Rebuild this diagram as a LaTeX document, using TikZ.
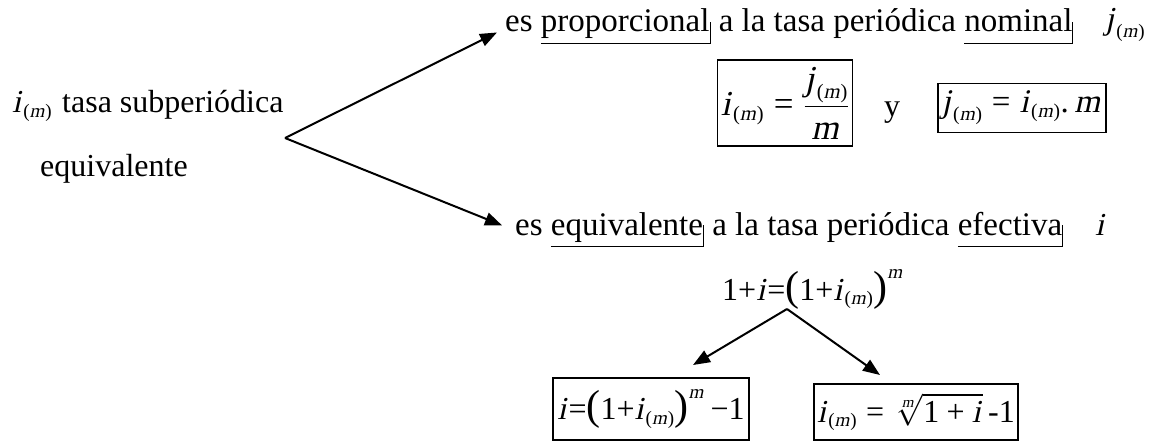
\RequirePackage{fix-cm}
\documentclass[tikz,border=0pt]{standalone}
\usepackage{amsmath}
\usepackage{fontspec}
\setmainfont{Liberation Serif}[ItalicFont={Liberation Serif},ItalicFeatures={FakeSlant=0.22}]
\usetikzlibrary{arrows.meta}
\DeclareMathSizes{32}{32}{19}{15}
\DeclareMathSizes{33}{33}{19.5}{15}
\DeclareMathSizes{34}{34}{20}{16}
\DeclareMathSizes{35}{35}{20.5}{16}
\newcommand\vv[1]{\text{\itshape #1\kern0.07em}}
\newcommand\sm{\text{(\textit{m}\kern0.05em)}}
\newcommand\im{\vv{i}_{\sm}}
\newcommand\jm{\vv{j}_{\sm}}
\newcommand\one{\text{1}}
\newcommand\pl{\text{+}}
\newcommand\eq{\text{=}}
\newcommand\mn{\text{−}}
\newcommand\bp[1]{\text{\fontsize{42}{42}\selectfont #1}}
\newcommand\lp{\mathopen{\bp(}}
\newcommand\rp{\mathclose{\bp)}}
\newcommand\ub[1]{\setbox0\hbox{#1}\rlap{\rule[-0.36em]{\wd0}{1pt}}\box0\rule[-0.36em]{1pt}{0.67em}}
\tikzset{
  txt/.style={inner sep=0pt},
  rt/.style={inner sep=0pt,font=\fontsize{33}{40}\selectfont},
  box/.style={draw, line width=1.5pt, inner sep=3pt},
  bigbox/.style={box, font=\fontsize{35}{42}\selectfont},
  midbox/.style={box, font=\fontsize{33}{40}\selectfont},
  arr/.style={line width=2pt, -{Triangle[length=17pt,width=13pt]}},
}
\begin{document}
\begin{tikzpicture}[x=1pt,y=-1pt,font=\fontsize{32}{38}\selectfont]
\useasboundingbox (0,0) rectangle (1157,441);
% left
\node[txt,anchor=base west] (im) at (12,113) {$\im$};
\node[txt,anchor=base west] (t1) at (62,113) {tasa subperiódica};
\node[txt,anchor=base west] (t2) at (40,176) {equivalente};
\coordinate (V) at (285,138);
% top branch
\node[rt,anchor=base west] (top) at (505,32) {es \ub{proporcional} a la tasa periódica \ub{nominal}};
\node[txt,anchor=base west] (jm) at (1105,30) {$\jm$};
\node[bigbox,minimum width=135pt,minimum height=86pt] (b1) at (785,103) {$\im \mathrel{\eq} \dfrac{\jm}{\vv{m}}$};
\node[txt,anchor=base] (y) at (892,117) {y};
\node[midbox,minimum width=168pt,minimum height=49pt] (b2) at (1022,108) {$\jm \mathrel{\eq} \im\text{.}\,\vv{m}$};
% bottom branch
\node[rt,anchor=base west] (bot) at (515,235) {es \ub{equivalente} a la tasa periódica \ub{efectiva}};
\node[txt,anchor=base west] (ii) at (1095,235) {$\vv{i}$};
\node[txt,anchor=base west] (F) at (722,300) {$\one\pl\vv{i}\eq\lp\one\pl\im\rp^{\vv{m}}$};
\coordinate (W) at (787,309);
\coordinate (L) at (693,365);
\coordinate (R) at (880,375);
\node[box,minimum width=196pt,minimum height=62pt] (b3) at (651,409) {$\vv{i}\eq\lp\one\pl\im\rp^{\vv{m}}\,\mn\one$};
\node[box,minimum width=178pt,minimum height=56pt] (b4) at (916,412) {$\im \mathrel{\eq} \sqrt[\vv{m}]{\one\mathbin{\pl}\vv{i}}\,\text{-1}$};
% connectors
\draw[arr] (V) -- ([xshift=-8pt,yshift=-6pt]top.west);
\draw[arr] (V) -- ([xshift=-13pt,yshift=4pt]bot.west);
\draw[arr] (W) -- (L);
\draw[arr] (W) -- (R);
\end{tikzpicture}
\end{document}
